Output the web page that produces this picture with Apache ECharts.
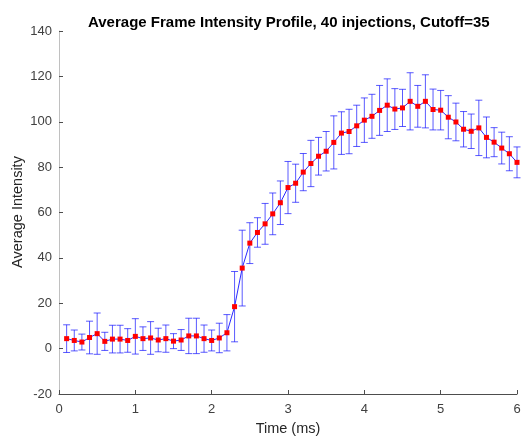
<!DOCTYPE html>
<html>
<head>
<meta charset="utf-8">
<script src="https://cdn.jsdelivr.net/npm/echarts@6/dist/echarts.min.js"></script>
<style>
html,body{margin:0;padding:0;background:#fff;}
#chart{width:523px;height:436px;}
</style>
</head>
<body>
<div id="chart"></div>
<script>
var times = [0.1,0.2,0.3,0.4,0.5,0.6,0.7,0.8,0.9,1.0,
             1.1,1.2,1.3,1.4,1.5,1.6,1.7,1.8,1.9,2.0,
             2.1,2.2,2.3,2.4,2.5,2.6,2.7,2.8,2.9,3.0,
             3.1,3.2,3.3,3.4,3.5,3.6,3.7,3.8,3.9,4.0,
             4.1,4.2,4.3,4.4,4.5,4.6,4.7,4.8,4.9,5.0,
             5.1,5.2,5.3,5.4,5.5,5.6,5.7,5.8,5.9,6.0];
var meanIntensity = [4.4,3.6,2.9,4.9,6.6,3.2,4.2,4.2,3.6,5.4,
                     4.4,4.7,3.8,4.4,3.3,3.8,5.6,5.6,4.4,3.6,
                     4.7,7.0,18.5,35.5,46.5,51.2,55.0,59.4,64.3,71.0,
                     72.9,77.8,81.6,84.8,87.0,90.9,95.0,95.7,98.2,100.7,
                     102.4,105.0,107.3,105.6,106.1,109.0,106.8,109.0,105.4,105.1,
                     102.0,99.9,96.7,95.8,97.3,93.1,91.0,88.4,85.9,82.1];
var errIntensity = [6.1,4.6,3.5,7.2,9.1,4.0,6.1,6.1,5.2,7.8,
                    5.2,7.2,5.2,6.0,3.3,4.6,7.8,7.8,6.0,4.6,
                    6.5,8.0,15.5,16.7,9.0,6.5,9.0,9.2,9.6,11.5,
                    8.4,8.2,10.2,8.3,8.7,11.7,9.4,9.8,9.1,9.8,
                    9.7,11.0,11.6,9.0,8.2,12.6,9.2,11.7,9.0,8.7,
                    9.5,8.3,7.8,7.6,12.2,9.0,6.4,7.0,7.5,6.8];
var xTicks = {min: 0, max: 6, interval: 1};
var yTicks = {min: -20, max: 140, interval: 20};
var yAxisTitle = 'Average Intensity';

var lineData = times.map(function(t, i){ return [t, meanIntensity[i]]; });
var errData = times.map(function(t, i){ return [t, meanIntensity[i] - errIntensity[i], meanIntensity[i] + errIntensity[i]]; });

var chart = echarts.init(document.getElementById('chart'), null, {renderer: 'canvas'});
var font = '"Liberation Sans", Arial, Helvetica, sans-serif';
chart.setOption({
  animation: false,
  backgroundColor: '#ffffff',
  title: {
    text: 'Average Frame Intensity Profile, 40 injections, Cutoff=35',
    left: 83, top: 10,
    textStyle: {fontFamily: font, fontSize: 15, fontWeight: 'bold', color: '#000'}
  },
  graphic: [{
    type: 'text',
    x: 18, y: 212,
    rotation: Math.PI / 2,
    style: {
      text: yAxisTitle,
      align: 'center', verticalAlign: 'middle',
      fontFamily: font, fontSize: 14.5, fill: '#262626'
    }
  }],
  grid: {left: 59, right: 6, top: 31, bottom: 42, containLabel: false, outerBoundsMode: 'none'},
  xAxis: {
    type: 'value', min: xTicks.min, max: xTicks.max, interval: xTicks.interval,
    name: 'Time (ms)', nameLocation: 'middle', nameGap: 27,
    nameTextStyle: {fontFamily: font, fontSize: 14.5, color: '#262626'},
    axisLine: {show: true, onZero: false, lineStyle: {color: '#4d4d4d', width: 1}},
    axisTick: {show: true, inside: true, length: 4, lineStyle: {color: '#4d4d4d'}},
    axisLabel: {fontFamily: font, fontSize: 13, color: '#404040', margin: 9},
    splitLine: {show: false}
  },
  yAxis: {
    type: 'value', min: yTicks.min, max: yTicks.max, interval: yTicks.interval,
    axisLine: {show: true, onZero: false, lineStyle: {color: '#c0c0c0', width: 1}},
    axisTick: {show: true, inside: true, length: 4, lineStyle: {color: '#4d4d4d'}},
    axisLabel: {fontFamily: font, fontSize: 13, color: '#404040', margin: 7},
    splitLine: {show: false}
  },
  series: [
    {
      type: 'custom',
      name: 'err',
      data: errData,
      z: 1,
      renderItem: function(params, api){
        var x = api.value(0);
        var lo = api.coord([x, api.value(1)]);
        var hi = api.coord([x, api.value(2)]);
        var hw = 3.5;
        var style = {stroke: 'rgba(20,20,255,0.7)', lineWidth: 1, fill: null};
        return {
          type: 'group',
          children: [
            {type: 'line', shape: {x1: lo[0], y1: lo[1], x2: hi[0], y2: hi[1]}, style: style},
            {type: 'line', shape: {x1: lo[0]-hw, y1: lo[1], x2: lo[0]+hw, y2: lo[1]}, style: style},
            {type: 'line', shape: {x1: hi[0]-hw, y1: hi[1], x2: hi[0]+hw, y2: hi[1]}, style: style}
          ]
        };
      }
    },
    {
      type: 'line',
      name: 'mean',
      data: lineData,
      z: 2,
      symbol: 'rect',
      symbolSize: 5,
      showSymbol: true,
      itemStyle: {color: '#ff0000'},
      lineStyle: {color: '#2a2aff', width: 1}
    }
  ]
});
</script>
</body>
</html>
